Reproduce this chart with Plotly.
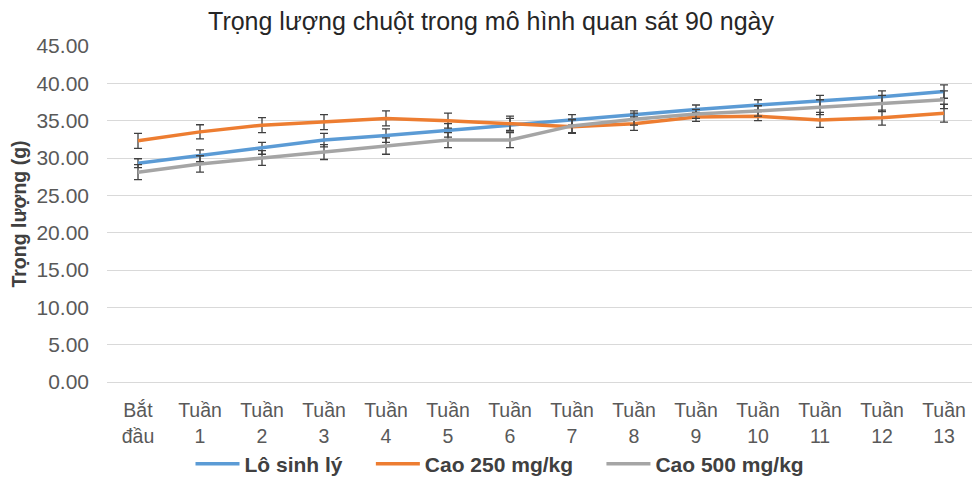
import plotly.graph_objects as go

categories = ["Bắt<br>đầu"] + [f"Tuần<br>{i}" for i in range(1, 14)]
series_names = ["Lô sinh lý", "Cao 250 mg/kg", "Cao 500 mg/kg"]
sinh_ly = [29.3, 30.3, 31.3, 32.4, 33.0, 33.7, 34.5, 35.1, 35.8, 36.5, 37.1, 37.6, 38.2, 38.9]
cao_250 = [32.3, 33.5, 34.4, 34.8, 35.3, 35.0, 34.6, 34.2, 34.6, 35.5, 35.6, 35.1, 35.4, 36.0]
cao_500 = [28.1, 29.2, 30.0, 30.8, 31.6, 32.4, 32.4, 34.3, 35.2, 35.9, 36.3, 36.8, 37.3, 37.8]
err_sinh_ly = [0.6, 0.8, 0.8, 0.9, 0.9, 0.9, 0.8, 0.7, 0.5, 0.6, 0.7, 0.8, 0.8, 0.9]
err_250 = [1.0, 0.95, 1.0, 1.0, 1.0, 1.0, 1.0, 0.9, 0.9, 0.6, 0.6, 1.0, 1.0, 1.2]
err_500 = [1.0, 1.1, 1.0, 1.0, 1.1, 1.0, 1.0, 0.9, 0.8, 0.6, 0.7, 1.0, 1.1, 1.2]
colors = ["#5B9BD5", "#ED7D31", "#A5A5A5"]

FONT = "Liberation Sans, Arial, sans-serif"

# The page adds an 8px body margin, so the figure is sized to fill the rest.
W, H = 972, 470
PAD = "\u00a0" * 4  # extra spacing between legend entries

fig = go.Figure()
for i, (name, vals, errs, col) in enumerate(zip(series_names, [sinh_ly, cao_250, cao_500],
                                               [err_sinh_ly, err_250, err_500], colors)):
    label = f"<b>{name}</b>" + (PAD if i < len(series_names) - 1 else "")
    fig.add_trace(go.Scatter(
        x=categories, y=vals, name=label, mode="lines",
        line=dict(color=col, width=3.5),
        error_y=dict(type="data", array=errs, visible=True,
                     color="#404040", thickness=1.3, width=4),
    ))

fig.update_layout(
    width=W, height=H,
    margin=dict(l=99, r=5, t=38, b=96, autoexpand=False),
    paper_bgcolor="white", plot_bgcolor="white",
    font=dict(family=FONT, color="#595959", size=19),
    title=dict(text="Trọng lượng chuột trong mô hình quan sát 90 ngày",
               x=483 / W, xref="container", xanchor="center",
               y=1 - 13 / H, yref="container", yanchor="middle",
               font=dict(size=25, color="#262626", family=FONT)),
    showlegend=True,
    legend=dict(orientation="h", xref="container", x=492 / W, xanchor="center",
                yref="paper", y=(382 - 464) / 336, yanchor="middle",
                font=dict(size=21, color="#404040", family=FONT),
                itemwidth=44, tracegroupgap=0,
                bgcolor="rgba(0,0,0,0)"),
)
fig.update_xaxes(
    type="category", range=[-0.5, 13.5],
    showgrid=False, showline=True, linecolor="#d9d9d9", linewidth=1,
    ticks="", tickfont=dict(size=19.5, color="#595959"),
    ticklabelstandoff=11,
    zeroline=False, fixedrange=True,
)
fig.update_yaxes(
    range=[0, 45], dtick=5, tickformat=".2f",
    showgrid=True, gridcolor="#d9d9d9", gridwidth=1,
    zeroline=False, showline=False, ticks="",
    tickfont=dict(size=21, color="#595959"),
    ticklabelstandoff=17,
    title=dict(text="<b>Trọng lượng (g)</b>", standoff=6,
               font=dict(size=19.5, color="#404040", family=FONT)),
    fixedrange=True,
)

fig.write_html("out.html")
